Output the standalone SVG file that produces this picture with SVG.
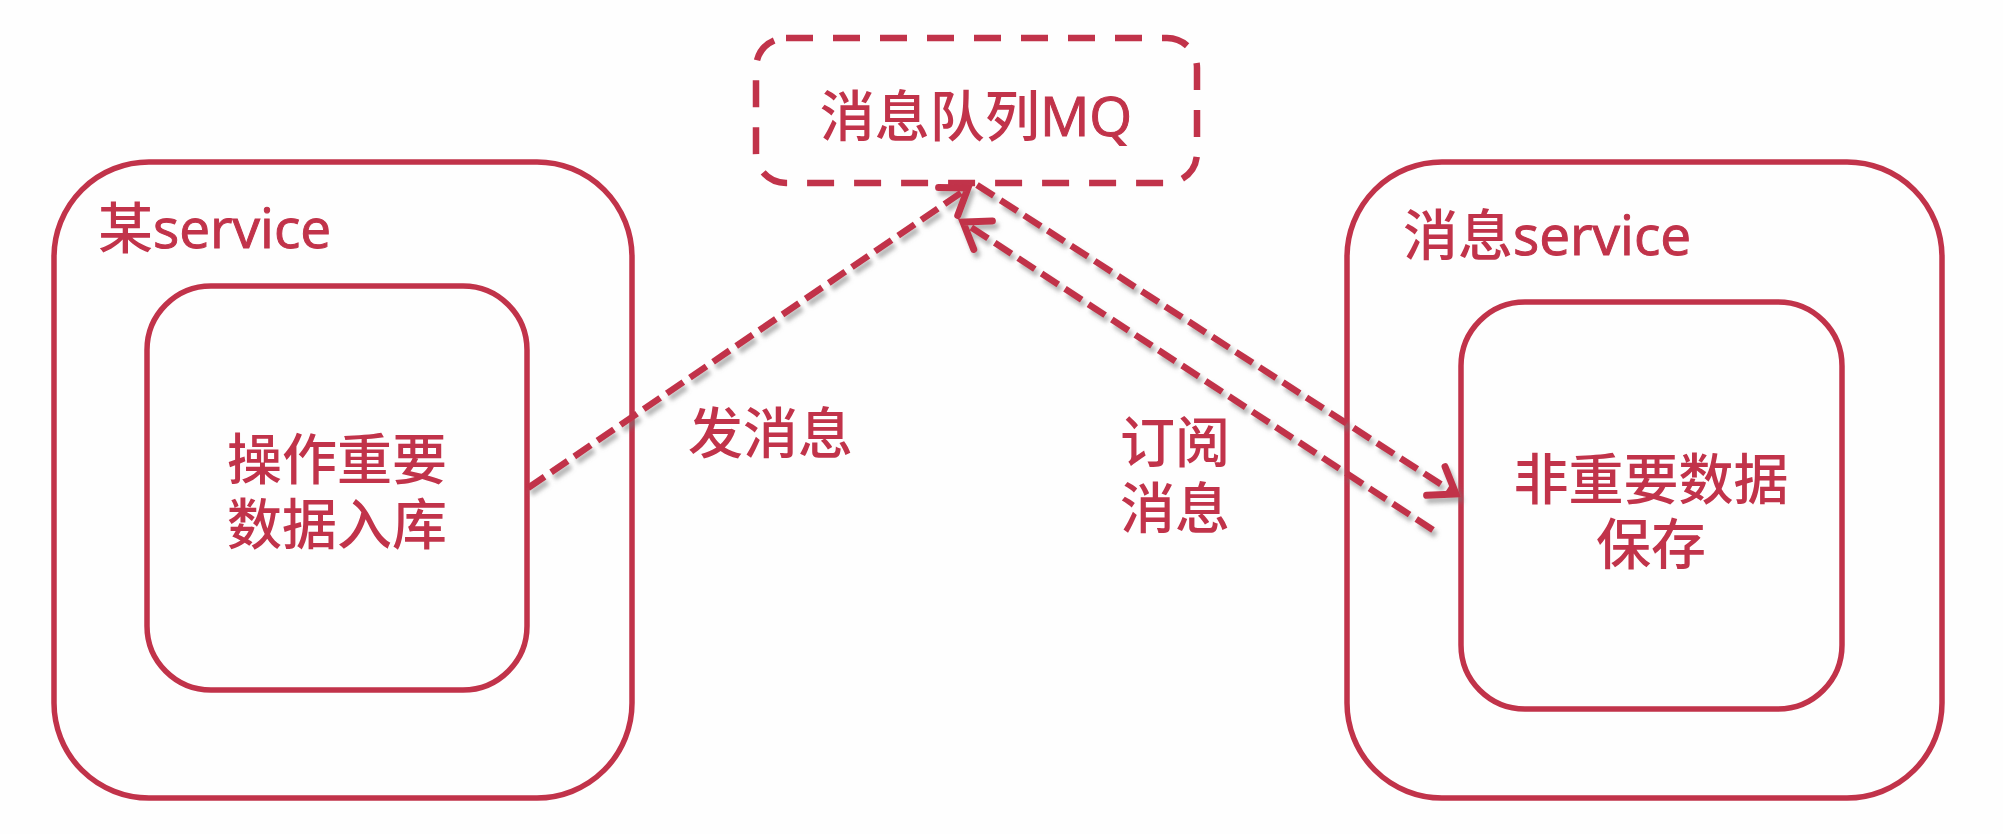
<svg xmlns="http://www.w3.org/2000/svg" width="2003" height="834" viewBox="0 0 2003 834">
<style>
.box{fill:none;stroke:#C1334A;stroke-width:5.5}
.mq{fill:none;stroke:#C1334A;stroke-width:6.5;stroke-dasharray:27 20}
.t{fill:#C1334A;font-family:"Open Sans","Noto Sans CJK SC",sans-serif;font-size:55px;font-weight:500}
.lat{stroke:#C1334A;stroke-width:1}
.c{text-anchor:middle}
.conn{fill:none;stroke:#C1334A;stroke-width:6.5;stroke-dasharray:20 8}
</style>
<defs>
<filter id="sh" x="-10%" y="-10%" width="120%" height="130%">
<feDropShadow dx="3" dy="5" stdDeviation="2" flood-color="#777" flood-opacity="0.55"/>
</filter>
<marker id="arr" markerUnits="userSpaceOnUse" markerWidth="44" markerHeight="44" viewBox="-32 -22 36 44" refX="0" refY="0" orient="auto">
<path d="M-24,-17 L0,0 L-24,17" fill="none" stroke="#C1334A" stroke-width="7" stroke-linecap="round" stroke-linejoin="miter"/>
</marker>
</defs>
<rect width="2003" height="834" fill="#FEFEFE"/>
<g id="mq">
<rect class="mq" x="756" y="38" width="441" height="145" rx="30"/>
<text class="t c" x="976" y="136">消息队列<tspan class="lat">MQ</tspan></text>
</g>
<g id="svc-left">
<rect class="box" x="54" y="162" width="578" height="636" rx="95"/>
<text class="t" x="98" y="248">某<tspan class="lat">service</tspan></text>
</g>
<g id="important-data">
<rect class="box" x="147" y="286" width="380" height="404" rx="64"/>
<text class="t c" x="337" y="479">操作重要</text>
<text class="t c" x="337" y="544">数据入库</text>
</g>
<g id="svc-right">
<rect class="box" x="1347" y="162" width="595" height="636" rx="95"/>
<text class="t" x="1403" y="255">消息<tspan class="lat">service</tspan></text>
</g>
<g id="nonimportant-data">
<rect class="box" x="1461" y="302" width="381" height="407" rx="64"/>
<text class="t c" x="1651" y="499">非重要数据</text>
<text class="t c" x="1651" y="564">保存</text>
</g>
<g id="connectors" filter="url(#sh)">
<line class="conn" x1="528" y1="488" x2="968" y2="188" marker-end="url(#arr)"/>
<line class="conn" x1="977" y1="185" x2="1456" y2="494" marker-end="url(#arr)"/>
<line class="conn" x1="1433" y1="530" x2="963" y2="222" marker-end="url(#arr)"/>
</g>
<g id="labels">
<text class="t" x="688" y="453">发消息</text>
<text class="t" x="1120" y="462">订阅</text>
<text class="t" x="1120" y="528">消息</text>
</g>
</svg>
